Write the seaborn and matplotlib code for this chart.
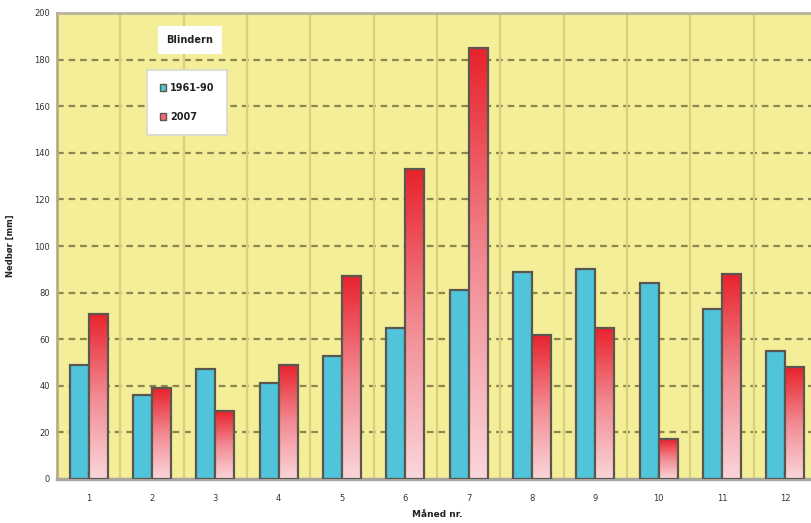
import numpy as np
import pandas as pd
import matplotlib
matplotlib.use("Agg")
import matplotlib.pyplot as plt
import seaborn as sns
from matplotlib.patches import Patch
from matplotlib.colors import LinearSegmentedColormap

months = [str(m) for m in range(1, 13)]
normal_1961_90 = [49, 36, 47, 41, 53, 65, 81, 89, 90, 84, 73, 55]
year_2007 = [71, 39, 29, 49, 87, 133, 185, 62, 65, 17, 88, 48]
series_names = ["1961-90", "2007"]
y_ticks = list(range(0, 201, 20))

df = pd.DataFrame({
    "Måned": months * 2,
    "Nedbør": normal_1961_90 + year_2007,
    "Periode": [series_names[0]] * 12 + [series_names[1]] * 12,
})

sns.set_theme(style="white")
plt.rcParams["font.family"] = ["DejaVu Sans"]

blue = "#4fc4da"
red_top = "#e8222c"
red_bottom = "#fad6da"
edge = "#5b5650"
bg = "#f3ee97"

fig = plt.figure(figsize=(8.11, 5.23), dpi=100)
ax = fig.add_axes([57 / 811, 1 - 479 / 523, (817 - 57) / 811, (479 - 13) / 523])
ax.set_facecolor(bg)

sns.barplot(data=df, x="Måned", y="Nedbør", hue="Periode", order=months,
            hue_order=series_names, palette=[blue, red_top], width=0.6,
            gap=0, saturation=1, edgecolor=edge, linewidth=1.6, ax=ax,
            legend=False, zorder=3)

# gradient fill for the 2007 bars
cmap = LinearSegmentedColormap.from_list("redfade", [red_bottom, "#f28a92", red_top])
grad = np.linspace(0, 1, 256).reshape(-1, 1)
red_bars = ax.containers[1]
for bar in red_bars:
    x0, y0 = bar.get_x(), bar.get_y()
    w, h = bar.get_width(), bar.get_height()
    im = ax.imshow(grad, cmap=cmap, origin="lower", aspect="auto",
                   extent=[x0, x0 + w, y0, y0 + h], zorder=3.5)
    im.set_clip_path(bar)
    bar.set_facecolor("none")
    bar.set_zorder(4)

ax.set_xlim(-0.5, 11.5)
ax.set_ylim(0, 200)
ax.set_yticks(y_ticks)
ax.set_yticklabels([str(t) for t in y_ticks])

# grid: dashed horizontals, solid verticals between months
for t in y_ticks[1:-1]:
    ax.axhline(t, color="#8c864f", lw=1.6, ls=(0, (3, 2.2)), zorder=1)
for b in np.arange(0.5, 11.5, 1):
    ax.axvline(b, color="#d9d07f", lw=1.6, zorder=1)

ax.spines["right"].set_visible(False)
ax.spines["top"].set_color("#b9b39a")
ax.spines["top"].set_linewidth(2)
ax.spines["left"].set_color("#b5ae84")
ax.spines["left"].set_linewidth(2)
ax.spines["bottom"].set_color("#a9a6a0")
ax.spines["bottom"].set_linewidth(2.5)

ax.tick_params(axis="both", length=0, labelsize=6, colors="#333333")
ax.tick_params(axis="x", pad=11)
ax.tick_params(axis="y", pad=5)

ax.set_xlabel("Måned nr.", fontsize=6.5, fontweight="bold", color="#222222", labelpad=5)
ax.set_ylabel("Nedbør [mm]", fontsize=6, fontweight="bold", color="#222222", labelpad=14)

fig.text(190 / 811, 1 - 40 / 523, "Blindern", fontsize=7, fontweight="bold",
         ha="center", va="center", color="#222222",
         bbox=dict(boxstyle="square,pad=0.9", fc="white", ec="none"))

handles = [Patch(facecolor=blue, edgecolor=edge, label=series_names[0]),
           Patch(facecolor="#f06a74", edgecolor=edge, label=series_names[1])]
leg = fig.legend(handles=handles, loc="upper left",
                 bbox_to_anchor=(147 / 811, 1 - 70 / 523), fontsize=7,
                 frameon=True, fancybox=False, framealpha=1,
                 handlelength=0.7, handleheight=0.7, labelspacing=2.0,
                 borderpad=1.3, handletextpad=0.4, borderaxespad=0)
leg.get_frame().set_edgecolor("#dcdcd0")
leg.get_frame().set_linewidth(1.5)
for t in leg.get_texts():
    t.set_fontweight("bold")
    t.set_color("#222222")

fig.savefig("out.png", dpi=100)
